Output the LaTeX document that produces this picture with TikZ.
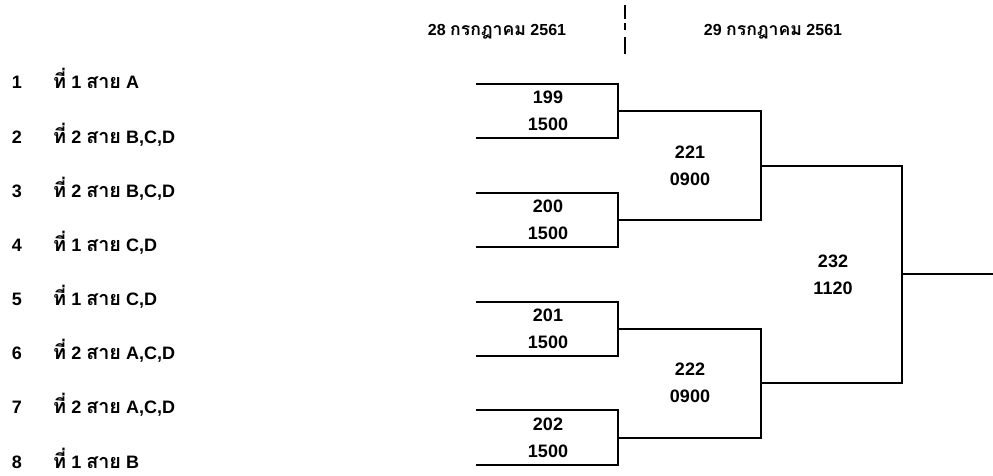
\documentclass[tikz,border=0pt]{standalone}
\usepackage{fontspec}
\setmainfont{Liberation Sans}
\newfontfamily\thaifont[Script=Thai,Scale=1.1]{Loma}
\newcommand{\thai}[1]{{\thaifont #1}}
\tikzset{
  bline/.style={line width=2pt},
  team/.style={inner sep=0pt, font=\bfseries\fontsize{18}{20}\selectfont},
  match/.style={inner sep=0pt, align=center, font=\bfseries\fontsize{18}{27}\selectfont},
  day/.style={inner sep=0pt, font=\bfseries\fontsize{16}{18}\selectfont}
}
\begin{document}
\begin{tikzpicture}[x=1pt,y=-1pt]
\useasboundingbox (0,0) rectangle (993,476);
\node[day,anchor=base] (d28) at (497,35.5) {28 \thai{กรกฎาคม} 2561};
\node[day,anchor=base] (d29) at (773,35.5) {29 \thai{กรกฎาคม} 2561};
\coordinate (dtop) at (625,5);
\coordinate (dbot) at (625,54);
\draw[bline, dash pattern=on 14pt off 4pt on 7pt off 7pt on 17pt] (dtop) -- (dbot);
\foreach \i/\y/\b/\t in {1/84/89/{\thai{ที่} 1 \thai{สาย} A},
                      2/138.4/143.2/{\thai{ที่} 2 \thai{สาย} B,C,D},
                      3/192.8/197.3/{\thai{ที่} 2 \thai{สาย} B,C,D},
                      4/247.2/251.5/{\thai{ที่} 1 \thai{สาย} C,D},
                      5/301.6/305.6/{\thai{ที่} 1 \thai{สาย} C,D},
                      6/356/359.8/{\thai{ที่} 2 \thai{สาย} A,C,D},
                      7/410.4/413.9/{\thai{ที่} 2 \thai{สาย} A,C,D},
                      8/464.8/468/{\thai{ที่} 1 \thai{สาย} B}} {
  \node[team,anchor=base] (n\i) at (17,\b) {\i};
  \node[team,anchor=base west] (t\i) at (53,\b) {\t};
  \coordinate (a\i) at (476,\y);
  \coordinate (b\i) at (618,\y);
}
\coordinate (c12) at (618,111.2);
\coordinate (c34) at (618,220);
\coordinate (c56) at (618,328.8);
\coordinate (c78) at (618,437.6);
\coordinate (d12) at (761,111.2);
\coordinate (d34) at (761,220);
\coordinate (d56) at (761,328.8);
\coordinate (d78) at (761,437.6);
\coordinate (e1) at (761,165.6);
\coordinate (e2) at (761,383.2);
\coordinate (f1) at (902,165.6);
\coordinate (f2) at (902,383.2);
\coordinate (g) at (902,274.4);
\coordinate (win) at (993,274.4);
\draw[bline] (a1) -- (b1) -- (b2) -- (a2);
\draw[bline] (a3) -- (b3) -- (b4) -- (a4);
\draw[bline] (a5) -- (b5) -- (b6) -- (a6);
\draw[bline] (a7) -- (b7) -- (b8) -- (a8);
\draw[bline] (c12) -- (d12) -- (d34) -- (c34);
\draw[bline] (c56) -- (d56) -- (d78) -- (c78);
\draw[bline] (e1) -- (f1) -- (f2) -- (e2);
\draw[bline] (g) -- (win);
\node[match] (m199) at (548,111.2) {199\\1500};
\node[match] (m200) at (548,220) {200\\1500};
\node[match] (m201) at (548,328.8) {201\\1500};
\node[match] (m202) at (548,437.6) {202\\1500};
\node[match] (m221) at (690,165.6) {221\\0900};
\node[match] (m222) at (690,383.2) {222\\0900};
\node[match] (m232) at (833,274.4) {232\\1120};
\end{tikzpicture}
\end{document}
